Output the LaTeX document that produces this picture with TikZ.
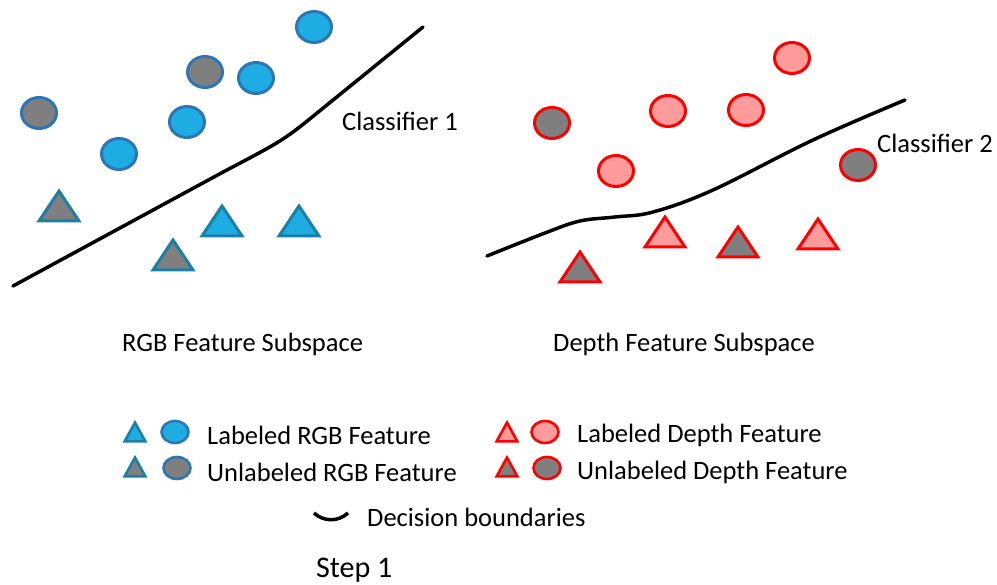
\documentclass[tikz,border=0pt]{standalone}
\usepackage{fontspec}
\setmainfont{Carlito}
\usetikzlibrary{shapes.geometric}
\definecolor{rgbfill}{HTML}{1DADE3}
\definecolor{rgbedge}{HTML}{2E75B6}
\definecolor{rgbtri}{HTML}{1B7FA6}
\definecolor{unl}{HTML}{7F7F7F}
\definecolor{dfill}{HTML}{FF9B9B}
\definecolor{dedge}{HTML}{FF0000}
\tikzset{
  dot/.style={ellipse, draw, line width=3pt, inner sep=0pt, outer sep=0pt,
    minimum width=35pt, minimum height=31pt},
  smalldot/.style={dot, line width=2.6pt, minimum width=27pt, minimum height=22pt},
  rgbl/.style={draw=rgbedge, fill=rgbfill},
  rgbu/.style={draw=rgbedge, fill=unl},
  trl/.style={draw=rgbtri, fill=rgbfill, line width=3pt},
  tru/.style={draw=rgbtri, fill=unl, line width=3pt},
  dl/.style={draw=dedge, fill=dfill},
  du/.style={draw=dedge, fill=unl},
  tdl/.style={draw=dedge, fill=dfill, line width=3pt},
  tdu/.style={draw=dedge, fill=unl, line width=3pt},
  tri/.pic={\path[pic actions] (-20,15) -- (0,-15) -- (20,15) -- cycle;},
  small/.style={xscale=0.52, yscale=0.63},
  boundary/.style={line width=3.5pt, line cap=round, line join=round, black},
  lbl/.style={anchor=base west, inner sep=0pt, font=\fontsize{26.5}{30}\selectfont},
}
\begin{document}
\begin{tikzpicture}[x=1pt, y=-1pt]
\useasboundingbox (0,0) rectangle (997,585);

% RGB feature subspace
\node[dot, rgbl] (r1) at (314,27) {};
\node[dot, rgbu] (r2) at (205,72) {};
\node[dot, rgbl] (r3) at (256,78) {};
\node[dot, rgbu] (r4) at (39,113) {};
\node[dot, rgbl] (r5) at (187,122) {};
\node[dot, rgbl] (r6) at (119,154) {};
\pic[tru] (rt1) at (59,206) {tri};
\pic[trl] (rt2) at (222,221) {tri};
\pic[trl] (rt3) at (299,221) {tri};
\pic[tru] (rt4) at (173,255) {tri};
\coordinate (a0) at (13,286);
\coordinate (a1) at (225,171);
\coordinate (a2) at (322,109);
\coordinate (a3) at (423,27);
\draw[boundary] (a0) -- (a1) .. controls (284,140) .. (a2) -- (a3);
\node[lbl] (c1) at (342,131) {Classifier 1};
\node[lbl] (s1) at (122,352) {RGB Feature Subspace};

% Depth feature subspace
\node[dot, dl] (d1) at (792,58) {};
\node[dot, dl] (d2) at (668,111) {};
\node[dot, dl] (d3) at (746,110) {};
\node[dot, du] (d4) at (552,123) {};
\node[dot, dl] (d5) at (616,171) {};
\node[dot, du] (d6) at (858,165) {};
\pic[tdu] (dt1) at (580,267) {tri};
\pic[tdl] (dt2) at (665,232) {tri};
\pic[tdu] (dt3) at (738,242) {tri};
\pic[tdl] (dt4) at (818,234) {tri};
\draw[boundary] plot[smooth, tension=0.6] coordinates
  {(487,256) (545,233) (580,221) (615,217) (653,212) (713,190) (813,140) (905,100)};
\node[lbl] (c2) at (877,153) {Classifier 2};
\node[lbl] (s2) at (553,352) {Depth Feature Subspace};

% Legend
\pic[trl, line width=2.6pt, small] (lt1) at (135,432) {tri};
\node[smalldot, rgbl] (lc1) at (175,432) {};
\node[lbl] (l1) at (207,445) {Labeled RGB Feature};
\pic[tru, line width=2.6pt, small] (lt2) at (135,467) {tri};
\node[smalldot, rgbu] (lc2) at (177,468) {};
\node[lbl] (l2) at (207,482) {Unlabeled RGB Feature};
\pic[tdl, line width=2.6pt, small] (lt3) at (507,432) {tri};
\node[smalldot, dl] (lc3) at (545,432) {};
\node[lbl] (l3) at (577,443) {Labeled Depth Feature};
\pic[tdu, line width=2.6pt, small] (lt4) at (507,467) {tri};
\node[smalldot, du] (lc4) at (547,468) {};
\node[lbl] (l4) at (577,479) {Unlabeled Depth Feature};
\coordinate (b1) at (314,513);
\coordinate (b2) at (348,513);
\draw[boundary, line cap=butt] (b1) .. controls (324,522) and (338,522) .. (b2);
\node[lbl] (l5) at (367,526) {Decision boundaries};

\node[anchor=base west, inner sep=0pt, font=\fontsize{30}{34}\selectfont] (step) at (316,577) {Step 1};
\end{tikzpicture}
\end{document}
